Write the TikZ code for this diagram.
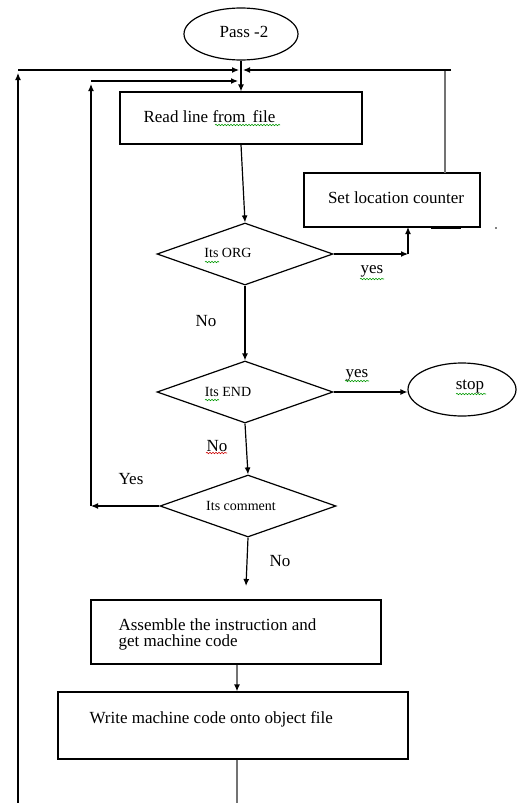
\documentclass[tikz,border=0pt]{standalone}
\usepackage{fontspec}
\setmainfont{Liberation Serif}
\usetikzlibrary{shapes.geometric,arrows.meta,decorations.pathmorphing}
\begin{document}
\begin{tikzpicture}[x=1pt,y=-1pt,
  line width=1.2pt,
  >={Latex[length=7pt,width=6pt]},
  box/.style={draw,rectangle,inner sep=0pt},
  oval/.style={draw,ellipse,inner sep=0pt},
  dia/.style={draw,diamond,inner sep=0pt,minimum width=176pt,minimum height=62pt},
  txt/.style={font=\fontsize{17}{16}\selectfont,inner sep=0pt},
  smalltxt/.style={font=\fontsize{14}{16}\selectfont,inner sep=0pt},
  squig/.style={draw=green!60!black,line width=0.6pt,decorate,decoration={snake,amplitude=0.7pt,segment length=3pt}},
  squigred/.style={squig,draw=red!80!black},
  grayline/.style={draw=black!55,line width=1.6pt},
]
\useasboundingbox (0,0) rectangle (518,803);

% shapes
\node[oval,minimum width=114pt,minimum height=52pt] (pass) at (241,34) {};
\node[txt] (passt) at (244,32) {Pass -2};

\node[box,minimum width=242pt,minimum height=52pt] (read) at (241,118) {};
\node[txt,anchor=west] (readt) at (143,117) {Read line from\, file};

\node[dia] (org) at (245,254) {};
\node[smalltxt] (orgt) at (228,253) {Its ORG};

\node[box,minimum width=176pt,minimum height=54pt] (setlc) at (392,200) {};
\node[txt] (setlct) at (396,198) {Set location counter};

\node[dia] (end) at (245,392) {};
\node[smalltxt] (endt) at (228,392) {Its END};

\node[oval,minimum width=108pt,minimum height=53pt] (stop) at (462,389.5) {};
\node[txt] (stopt) at (470,387) {stop};

\node[dia] (comment) at (248,506) {};
\node[smalltxt] (commentt) at (241,506) {Its comment};

\node[box,minimum width=290pt,minimum height=64pt] (asm) at (236,632) {};
\node[txt,anchor=west,align=left] (asmt) at (118,634) {Assemble the instruction and\\get machine code};

\node[box,minimum width=350pt,minimum height=67pt] (write) at (233,725.5) {};
\node[txt,anchor=west] (writet) at (89,719) {Write machine code onto object file};

% labels
\node[txt] (l1) at (372,271) {yes};
\node[txt] (l2) at (206,321) {No};
\node[txt] (l3) at (357,375) {yes};
\node[txt] (l4) at (217,446) {No};
\node[txt] (l5) at (131,479) {Yes};
\node[txt] (l6) at (280,561) {No};

% coordinates
\coordinate (orgc) at (408,254);
\coordinate (lcin) at (408,227);
\coordinate (lcout) at (445,173);
\coordinate (lctop) at (445,70);
\coordinate (lcover) at (451,70);
\coordinate (bl) at (18,803);
\coordinate (tl) at (18,70);
\coordinate (tlarr) at (18,73);
\coordinate (cl) at (91,506);
\coordinate (cltop) at (91,81);
\coordinate (clarr) at (91,84);
\coordinate (clend) at (238,81);
\coordinate (cbot) at (246,586);
\coordinate (wbot) at (237,803);

% connectors
\draw[->] (pass.south) -- (read.north);
\draw[->] (read.south) -- (org.north);
\draw[->] (org.east) -- (orgc);
\draw[->] (orgc) -- (lcin);
\draw[grayline] (lcout) -- (lctop);
\draw[->] (lcover) -- (243,70);
\draw[->] (bl) -- (tlarr);
\draw[->] (tl) -- (239,70);
\draw[->] (org.south) -- (end.north);
\draw[->] (end.east) -- (end.east -| stop.west);
\draw[->] (end.south) -- (comment.north);
\draw[->] (comment.west) -- (cl);
\draw[->] (cl) -- (clarr);
\draw[->] (cltop) -- (clend);
\draw[->] (comment.south) -- (cbot);
\draw[grayline,-{Latex[length=7pt,width=6pt,color=black]}] (asm.south -| 237,0) -- (write.north -| 237,0);
\draw[grayline] (write.south -| 237,0) -- (wbot);

% artifacts
\draw[line width=1.6pt] (431,228) -- (461,228);
\fill (496,228) circle (0.8pt);

% spell-check underlines
\draw[squig] (215,125) -- (280,125);
\draw[squig] (205,262) -- (219,262);
\draw[squig] (360,279) -- (384,279);
\draw[squig] (345,381) -- (369,381);
\draw[squig] (205,400) -- (219,400);
\draw[squig] (456,394) -- (486,394);
\draw[squigred] (206,453) -- (227,453);
\end{tikzpicture}
\end{document}
